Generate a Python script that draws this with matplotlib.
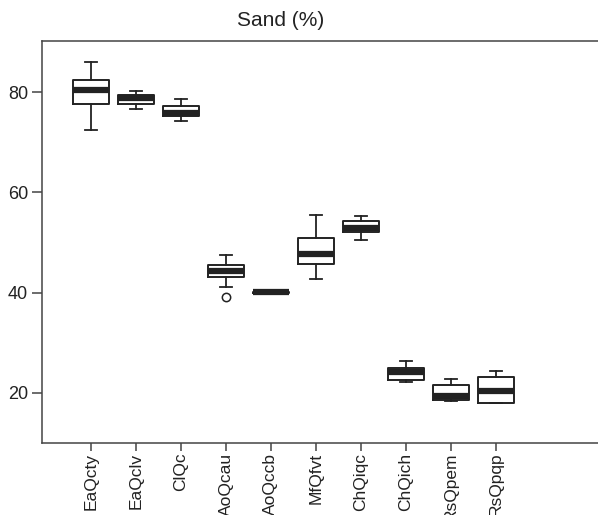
import matplotlib
matplotlib.use('Agg')
import matplotlib.pyplot as plt

plt.rcParams['font.family'] = ['Liberation Sans', 'DejaVu Sans']

# Box statistics
units = ['EaQcty', 'EaQclv', 'ClQc', 'AoQcau', 'AoQccb',
         'MfQfvt', 'ChQiqc', 'ChQich', 'RsQpem', 'RsQpqp']
whis_lo = [72.5, 76.7, 74.2, 41.1, 40.0, 42.8, 50.4, 22.2, 18.3, 18.0]
q1 = [77.7, 77.6, 75.2, 43.2, 40.0, 45.7, 52.1, 22.5, 18.5, 18.0]
median = [80.5, 78.9, 75.9, 44.4, 40.1, 47.7, 52.9, 24.2, 19.4, 20.3]
q3 = [82.4, 79.4, 77.3, 45.6, 40.2, 50.8, 54.3, 25.0, 21.6, 23.2]
whis_hi = [86.0, 80.3, 78.6, 47.5, 40.2, 55.5, 55.3, 26.3, 22.8, 24.3]
outliers = [[], [], [], [39.2], [], [], [], [], [], []]

stats = []
for i in range(len(units)):
    stats.append({'label': units[i], 'whislo': whis_lo[i], 'q1': q1[i],
                  'med': median[i], 'q3': q3[i], 'whishi': whis_hi[i],
                  'fliers': outliers[i]})

fig = plt.figure(figsize=(5.98, 5.15), dpi=100)
ax = fig.add_axes([0.0702, 0.1398, 0.9298, 0.7806])

ink = '#222222'
ax.bxp(stats, positions=range(1, len(units) + 1), widths=0.8,
       boxprops=dict(color=ink, linewidth=1.4),
       medianprops=dict(color=ink, linewidth=4.5, solid_capstyle='butt'),
       whiskerprops=dict(color=ink, linewidth=1.3),
       capprops=dict(color=ink, linewidth=1.3),
       flierprops=dict(marker='o', markerfacecolor='none', markeredgecolor=ink,
                       markersize=6, markeredgewidth=1.1),
       capwidths=0.28)

ax.set_xlim(-0.09, 12.27)
ax.set_ylim(10, 90.2)
ax.set_yticks([20, 40, 60, 80])
ax.set_xticks(range(1, len(units) + 1))
ax.set_xticklabels(units, rotation=90, va='top')

for s in ['left', 'top', 'bottom']:
    ax.spines[s].set_color('#444444')
    ax.spines[s].set_linewidth(1.1)
ax.spines['right'].set_visible(False)
ax.tick_params(colors='#444444', labelcolor='#222222', width=1.1)
ax.tick_params(axis='y', labelsize=13, length=7, pad=3)
ax.tick_params(axis='x', labelsize=12.5, length=6, pad=1)

fig.text(0.47, 0.961, 'Sand (%)', ha='center', va='center', fontsize=15, color='#222222')

fig.savefig('out.png', dpi=100)
